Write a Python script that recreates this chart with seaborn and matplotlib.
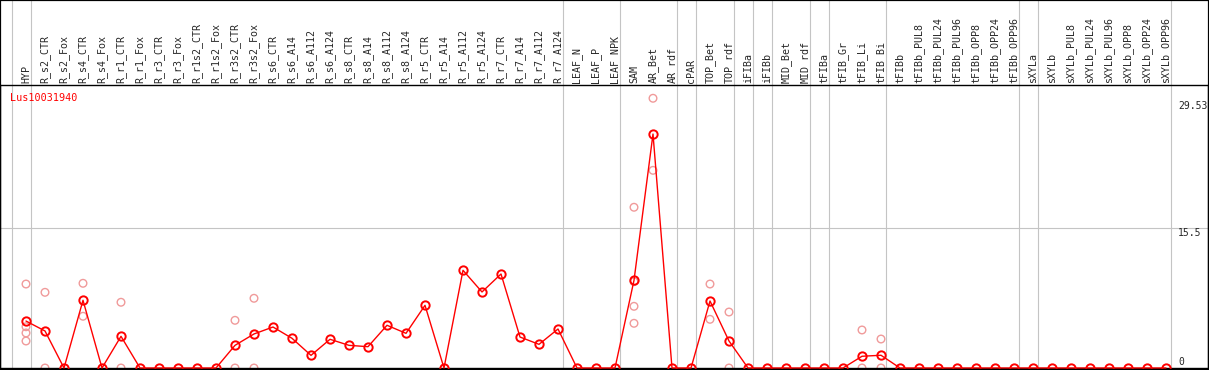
import matplotlib
matplotlib.use('Agg')
import matplotlib.pyplot as plt
import seaborn as sns
import pandas as pd
import numpy as np
from matplotlib.patches import Rectangle

# sample names (columns of the chart)
samples = ['HYP', 'R_s2_CTR', 'R_s2_Fox', 'R_s4_CTR', 'R_s4_Fox', 'R_r1_CTR', 'R_r1_Fox',
           'R_r3_CTR', 'R_r3_Fox', 'R_r1s2_CTR', 'R_r1s2_Fox', 'R_r3s2_CTR', 'R_r3s2_Fox',
           'R_s6_CTR', 'R_s6_A14', 'R_s6_A112', 'R_s6_A124', 'R_s8_CTR', 'R_s8_A14', 'R_s8_A112',
           'R_s8_A124', 'R_r5_CTR', 'R_r5_A14', 'R_r5_A112', 'R_r5_A124', 'R_r7_CTR', 'R_r7_A14',
           'R_r7_A112', 'R_r7_A124', 'LEAF_N', 'LEAF_P', 'LEAF_NPK', 'SAM', 'AR_Bet', 'AR_rdf',
           'cPAR', 'TOP_Bet', 'TOP_rdf', 'iFIBa', 'iFIBb', 'MID_Bet', 'MID_rdf', 'tFIBa',
           'tFIB_Gr', 'tFIB_Li', 'tFIB_Bi', 'tFIBb', 'tFIBb_PUL8', 'tFIBb_PUL24', 'tFIBb_PUL96',
           'tFIBb_OPP8', 'tFIBb_OPP24', 'tFIBb_OPP96', 'sXYLa', 'sXYLb', 'sXYLb_PUL8',
           'sXYLb_PUL24', 'sXYLb_PUL96', 'sXYLb_OPP8', 'sXYLb_OPP24', 'sXYLb_OPP96']

# mean expression per sample
means = [5.20, 4.10, 0, 7.50, 0, 3.51, 0, 0, 0, 0, 0, 2.51, 3.77,
         4.54, 3.29, 1.40, 3.18, 2.51, 2.36, 4.73, 3.84, 6.94, 0, 10.82, 8.42,
         10.41, 3.43, 2.62, 4.32, 0, 0, 0, 9.71, 25.91, 0, 0, 7.42, 2.99,
         0, 0, 0, 0, 0, 0, 1.30, 1.41, 0, 0, 0, 0, 0, 0, 0, 0, 0, 0, 0, 0, 0, 0, 0]

# replicate values (only the visible ones)
rep_sample = ['HYP', 'HYP', 'HYP', 'HYP', 'R_s2_CTR', 'R_s2_CTR', 'R_s4_CTR', 'R_s4_CTR',
              'R_r1_CTR', 'R_r1_CTR', 'R_r3s2_CTR', 'R_r3s2_CTR', 'R_r3s2_Fox', 'R_r3s2_Fox',
              'SAM', 'SAM', 'SAM', 'SAM', 'AR_Bet', 'AR_Bet', 'TOP_Bet', 'TOP_Bet',
              'TOP_rdf', 'TOP_rdf', 'tFIB_Li', 'tFIB_Li', 'tFIB_Bi', 'tFIB_Bi']
rep_value = [9.30, 4.57, 3.88, 2.99, 8.38, 0, 9.38, 5.73,
             7.28, 0, 5.28, 0, 7.72, 0,
             17.80, 9.56, 6.83, 4.95, 29.87, 21.89, 9.30, 5.39,
             6.20, 0, 4.21, 0, 3.21, 0]

# last sample of each group (grey separators)
group_last = ['HYP', 'R_r7_A124', 'LEAF_NPK', 'AR_rdf', 'cPAR', 'TOP_rdf', 'iFIBa', 'iFIBb',
              'MID_rdf', 'tFIBa', 'tFIB_Bi', 'tFIBb_OPP96', 'sXYLa', 'sXYLb_OPP96']

y_labels = [0, 15.5, 29.53]
gene = 'Lus10031940'

sns.set_style('white')
plt.rcParams['font.family'] = ['DejaVu Sans Mono', 'DejaVu Sans']

W, H = 1209, 370
fig = plt.figure(figsize=(W / 100, H / 100), dpi=100)
# plot area in pixels: x 0..1208, y 85..368
ax = fig.add_axes([0, 2 / H, 1208 / W, 283 / H])

idx = {s: i for i, s in enumerate(samples)}
df = pd.DataFrame({'x': np.arange(len(samples)), 'mean': means})
reps = pd.DataFrame({'x': [idx[s] for s in rep_sample], 'val': rep_value})

grey = '#c4c4c4'
ax.axhline(15.5, color=grey, lw=0.8, zorder=1)
for s in ['__start__'] + group_last:
    xpos = (idx[s] if s in idx else -1) + 0.25
    ax.axvline(xpos, ymin=0, ymax=368 / 283, color=grey, lw=0.8, clip_on=False, zorder=1)

sns.scatterplot(data=reps, x='x', y='val', ax=ax, marker='o', s=30, facecolor='none',
                edgecolor='#f09a9a', linewidth=1.0, zorder=2, clip_on=False)
sns.lineplot(data=df, x='x', y='mean', ax=ax, color='red', lw=1.0, marker='o', ms=6,
             markerfacecolor='none', markeredgecolor='red', markeredgewidth=1.4,
             zorder=3, clip_on=False)

ax.set_xlim(-26 / 19, (1208 - 26) / 19)
ax.set_ylim(0, 283 / 9.03)
ax.set_xlabel('')
ax.set_ylabel('')
ax.set_yticks([])
ax.xaxis.tick_top()
ax.set_xticks(df['x'])
ax.set_xticklabels(samples, rotation=90, fontsize=7.2, va='bottom', ha='center')
ax.tick_params(axis='x', length=0, pad=1.5, top=True, bottom=False, labeltop=True, labelbottom=False)
for sp in ax.spines.values():
    sp.set_color('black')
    sp.set_linewidth(1.0)

lx = (1178 - 26) / 19
ax.text(lx, 0.15, '0', fontsize=7, ha='left', va='bottom')
ax.text(lx, 15.5, '15.5', fontsize=7, ha='left', va='top')
ax.text(lx, 29.53, '29.53', fontsize=7, ha='left', va='top')
ax.text(-0.84, 29.9, gene, color='red', fontsize=7.3, ha='left', va='center')

fig.patches.append(Rectangle((0, 0), 1, 1, transform=fig.transFigure, fill=False,
                             ec='black', lw=1.6))

fig.savefig('out.png', dpi=100)
